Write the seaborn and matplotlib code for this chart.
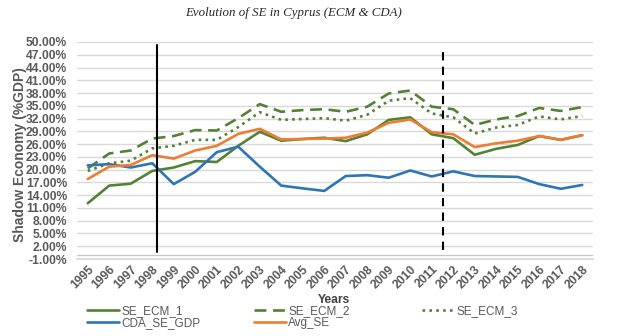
import matplotlib
matplotlib.use("Agg")
import matplotlib.pyplot as plt
import seaborn as sns
import pandas as pd
import numpy as np

years = list(range(1995, 2019))
se_ecm_1 = [12.1, 16.25, 16.7, 19.7, 20.5, 22.0, 21.8, 25.6, 28.9, 26.8, 27.2, 27.5,
            26.7, 28.3, 31.7, 32.3, 28.3, 27.4, 23.5, 24.9, 25.8, 27.9, 27.0, 28.1]
se_ecm_2 = [20.3, 23.8, 24.5, 27.3, 27.9, 29.3, 29.2, 32.1, 35.4, 33.6, 34.0, 34.2,
            33.6, 34.8, 37.9, 38.6, 34.8, 34.2, 30.5, 31.8, 32.6, 34.5, 33.8, 34.7]
se_ecm_3 = [19.7, 21.5, 22.1, 25.0, 25.6, 27.0, 27.0, 30.0, 33.5, 31.7, 31.9, 32.1,
            31.5, 32.9, 36.2, 36.8, 33.2, 32.3, 28.5, 29.9, 30.5, 32.5, 31.8, 32.6]
cda_se_gdp = [21.0, 21.3, 20.5, 21.5, 16.6, 19.5, 24.1, 25.4, 20.7, 16.25, 15.6, 15.0,
              18.5, 18.7, 18.1, 19.8, 18.4, 19.6, 18.5, 18.4, 18.3, 16.6, 15.5, 16.4]
avg_se = [17.8, 20.7, 21.1, 23.4, 22.6, 24.5, 25.6, 28.4, 29.6, 27.1, 27.2, 27.3,
          27.5, 28.7, 31.0, 31.8, 28.8, 28.3, 25.3, 26.2, 26.8, 27.9, 27.0, 28.1]
yticks = list(range(-1, 51, 3))

green = "#548235"
blue = "#2E75B6"
orange = "#ED7D31"
gray = "#595959"

sns.set_theme(style="white")
plt.rcParams['font.family'] = ['Liberation Sans', 'DejaVu Sans']

W, H = 624, 336
fig = plt.figure(figsize=(6.24, 3.36), dpi=100)
ax = fig.add_axes([77 / W, 1 - 259 / H, (593 - 77) / W, (259 - 42) / H])

series = [
    ("SE_ECM_1", se_ecm_1, green, "-"),
    ("SE_ECM_2", se_ecm_2, green, (0, (4.5, 2.5))),
    ("SE_ECM_3", se_ecm_3, green, (0, (1, 1.6))),
    ("CDA_SE_GDP", cda_se_gdp, blue, "-"),
    ("Avg_SE", avg_se, orange, "-"),
]
for name, vals, col, ls in series:
    sns.lineplot(x=years, y=vals, ax=ax, color=col, linewidth=1.9, label=name)
    ax.lines[-1].set_linestyle(ls)

ax.axhline(0, color="#C8C8C8", linewidth=1, zorder=1)
ax.plot([1998.2, 1998.2], [0.65, 49.3], color="black", linewidth=1.5)
ax.plot([2011.5, 2011.5], [1.1, 47.7], color="black", linewidth=1.5, linestyle=(0, (4, 3)))

ax.set_xlim(1994.5, 2018.5)
ax.set_ylim(-1, 50)
ax.set_yticks(yticks)
ax.set_yticklabels([f"{v:.2f}%" for v in yticks], fontsize=8.7, fontweight="bold", color=gray)
ax.set_xticks(years)
ax.set_xticklabels([str(y) for y in years], rotation=45, fontsize=8.7, fontweight="bold",
                   color=gray, ha="right", rotation_mode="anchor")
ax.tick_params(axis="x", pad=3, length=0)
ax.tick_params(axis="y", pad=7, length=0)
ax.yaxis.grid(True, color="#D9D9D9", linewidth=1)
for s in ["top", "right", "left"]:
    ax.spines[s].set_visible(False)
ax.spines["bottom"].set_color("#D9D9D9")

ax.set_xlabel("Years", fontsize=8.7, fontweight="bold", color="#404040")
ax.xaxis.set_label_coords((334 - 77) / (593 - 77), -(300 - 259) / (259 - 42))
ax.xaxis.label.set_va("center")
ax.set_ylabel("Shadow Economy (%GDP)", fontsize=10, fontweight="bold", color=gray)
ax.yaxis.set_label_coords(-(77 - 20) / (593 - 77), (259 - 155) / (259 - 42))
ax.yaxis.label.set_va("center")
fig.text(294 / W, 1 - 13 / H, "Evolution of SE in Cyprus (ECM & CDA)", ha="center", va="center",
         fontsize=9.3, style="italic", family=["Liberation Serif", "DejaVu Serif"])

handles, labels = ax.get_legend_handles_labels()
if ax.get_legend():
    ax.get_legend().remove()
hmap = dict(zip(labels, handles))
for name, vals, col, ls in series:
    hmap[name].set_linestyle(ls)
    hmap[name].set_color(col)

cols = [(87, ["SE_ECM_1", "CDA_SE_GDP"]), (254, ["SE_ECM_2", "Avg_SE"]), (422, ["SE_ECM_3"])]
for x0, names in cols:
    leg = fig.legend([hmap[n] for n in names], names, loc="upper left",
                     bbox_to_anchor=(x0 / W, 1 - 305.5 / H), frameon=False, fontsize=8.5,
                     handlelength=2.7, handletextpad=0.2, labelspacing=-0.05,
                     borderpad=0, borderaxespad=0)
    for t in leg.get_texts():
        t.set_color(gray)

fig.savefig("out.png", dpi=100)
